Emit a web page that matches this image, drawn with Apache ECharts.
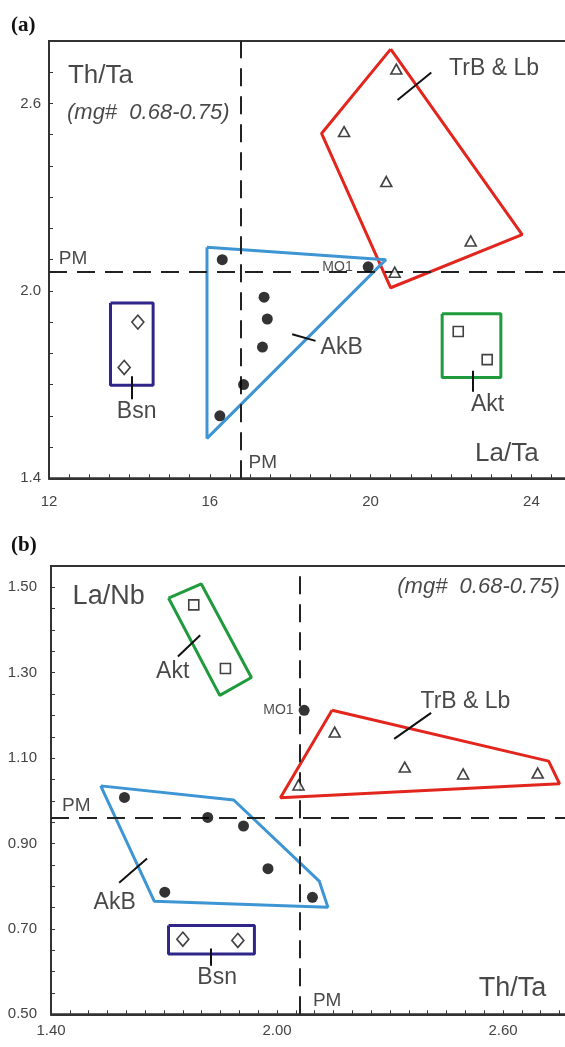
<!DOCTYPE html>
<html><head><meta charset="utf-8">
<script src="https://cdn.jsdelivr.net/npm/echarts/dist/echarts.min.js"></script>
<style>html,body{margin:0;padding:0;background:#fff;overflow:hidden}#c{width:600px;height:1047px}</style>
</head><body><div id="c"></div>
<script>
// ---------- Panel (a): x = La/Ta, y = Th/Ta ----------
const aTicksX = ['12', '16', '20', '24'];
const aTicksY = ['1.4', '2.0', '2.6'];
const aAkB = [[16.31, 2.10], [17.35, 1.98], [17.43, 1.91], [17.31, 1.82], [16.84, 1.70], [16.25, 1.60]];
const aMO1 = [19.94, 2.077];
const aTrB = [[20.64, 2.71], [19.34, 2.51], [20.39, 2.35], [22.49, 2.16], [20.60, 2.06]];
const aBsn = [[14.21, 1.90], [13.87, 1.755]];
const aAkt = [[22.18, 1.87], [22.90, 1.78]];
const aFieldTrB = [[20.5, 2.774], [23.77, 2.18], [20.5, 2.01], [18.78, 2.504]];
const aFieldAkB = [[15.93, 2.14], [20.38, 2.10], [15.93, 1.528]];
const aFieldBsn = [[13.53, 1.961], [14.59, 1.961], [14.59, 1.698], [13.53, 1.698]];
const aFieldAkt = [[21.78, 1.927], [23.24, 1.927], [23.24, 1.723], [21.78, 1.723]];
const aPM = [16.76, 2.06];

// ---------- Panel (b): x = Th/Ta, y = La/Nb ----------
const bTicksX = ['1.40', '2.00', '2.60'];
const bTicksY = ['0.50', '0.70', '0.90', '1.10', '1.30', '1.50'];
const bAkB = [[1.595, 1.008], [1.816, 0.961], [1.911, 0.941], [1.976, 0.841], [1.702, 0.786], [2.094, 0.774]];
const bMO1 = [2.072, 1.212];
const bTrB = [[2.153, 1.161], [2.339, 1.079], [2.494, 1.063], [2.692, 1.065], [2.057, 1.037]];
const bBsn = [[1.750, 0.676], [1.896, 0.673]];
const bAkt = [[1.779, 1.459], [1.863, 1.310]];
const bFieldTrB = [[2.146, 1.212], [2.721, 1.093], [2.750, 1.040], [2.009, 1.007]];
const bFieldAkB = [[1.532, 1.035], [1.885, 1.002], [2.112, 0.812], [2.135, 0.751], [1.674, 0.765]];
const bFieldBsn = [[1.712, 0.708], [1.940, 0.708], [1.940, 0.641], [1.712, 0.641]];
const bFieldAkt = [[1.712, 1.475], [1.799, 1.508], [1.932, 1.289], [1.848, 1.247]];
const bPM = [2.06, 0.96];

// ---------- annotations (data units) ----------
const aTitles = [{t: 'Th/Ta', p: [13.28, 2.69]}, {t: 'La/Ta', p: [23.39, 1.478]}];
const aGroups = [{t: 'TrB & Lb', p: [23.07, 2.71]}, {t: 'AkB', p: [19.28, 1.819]}, {t: 'Bsn', p: [14.18, 1.613]}, {t: 'Akt', p: [22.91, 1.637]}];
const aPMText = [{t: 'PM', p: [12.6, 2.104]}, {t: 'PM', p: [17.32, 1.449]}];
const aMg = [{t: '(mg#  0.68-0.75)', p: [14.47, 2.571]}];
const aLeaders = [[[20.67, 2.611], [21.51, 2.699]], [[18.05, 1.861], [18.63, 1.84]], [[14.07, 1.727], [14.07, 1.653]], [[22.53, 1.744], [22.53, 1.677]]];

const bTitles = [{t: 'La/Nb', p: [1.553, 1.479]}, {t: 'Th/Ta', p: [2.625, 0.561]}];
const bGroups = [{t: 'TrB & Lb', p: [2.50, 1.232]}, {t: 'AkB', p: [1.569, 0.761]}, {t: 'Bsn', p: [1.841, 0.585]}, {t: 'Akt', p: [1.723, 1.302]}];
const bPMText = [{t: 'PM', p: [1.467, 0.988]}, {t: 'PM', p: [2.133, 0.532]}];
const bMg = [{t: '(mg#  0.68-0.75)', p: [2.535, 1.502]}];
const bLeaders = [[[2.311, 1.145], [2.409, 1.206]], [[1.581, 0.808], [1.655, 0.865]], [[1.825, 0.654], [1.825, 0.614]], [[1.737, 1.338], [1.796, 1.388]]];

const FONT = "'Liberation Sans', Arial, sans-serif";
const C = {red: '#e2261d', blue: '#3d95d4', green: '#1f9a3c', purple: '#30268a', ink: '#1a1a1a', axis: '#333'};

function close(poly) { return poly.concat([poly[0]]); }
function field(idx, poly, color) {
  return {type: 'line', xAxisIndex: idx, yAxisIndex: idx, data: close(poly), symbol: 'none',
    lineStyle: {color: color, width: 3}, z: 2, silent: true, animation: false};
}
function pts(idx, data, symbol, size, filled) {
  return {type: 'scatter', xAxisIndex: idx, yAxisIndex: idx, data: data, symbol: symbol, symbolSize: size,
    itemStyle: filled ? {color: '#000'} : {color: '#fff', borderColor: '#111', borderWidth: 1.6}, z: 5, animation: false};
}
function texts(idx, arr, fs, italic) {
  return {type: 'scatter', xAxisIndex: idx, yAxisIndex: idx, symbolSize: 0, z: 6, silent: true, animation: false,
    data: arr.map(o => ({value: o.p, name: o.t})),
    label: {show: true, position: 'inside', formatter: p => p.name, color: C.ink, fontSize: fs,
      fontFamily: FONT, fontStyle: italic ? 'italic' : 'normal'}};
}
function leaders(idx, arr) {
  return {type: 'lines', coordinateSystem: 'cartesian2d', xAxisIndex: idx, yAxisIndex: idx, z: 4, silent: true,
    data: arr.map(c => ({coords: c})), lineStyle: {color: '#111', width: 2, opacity: 1}, animation: false};
}
function pmLines(idx, pm) {
  return {type: 'scatter', xAxisIndex: idx, yAxisIndex: idx, data: [], z: 3, animation: false,
    markLine: {silent: true, symbol: 'none', animation: false, label: {show: false},
      lineStyle: {color: '#222', width: 2, type: [18, 10]},
      data: [{xAxis: pm[0]}, {yAxis: pm[1]}]}};
}
function valAxis(idx, min, max, step, labels, digits, margin) {
  return {type: 'value', gridIndex: idx, min: min, max: max, interval: step,
    axisLine: {show: true, lineStyle: {color: C.axis, width: 2}},
    axisTick: {show: true, inside: true, length: 4, interval: 0, lineStyle: {color: C.axis, width: 1}},
    splitLine: {show: false},
    axisLabel: {show: true, interval: 0, margin: margin, color: '#444', fontSize: 15, fontFamily: FONT,
      formatter: v => { const hit = labels.find(s => Math.abs(Number(s) - v) < 1e-6); return hit || ''; }}};
}

const chart = echarts.init(document.getElementById('c'), null, {renderer: 'canvas'});
chart.setOption({
  backgroundColor: '#fff',
  animation: false,
  title: [
    {text: '(a)', left: 6, top: 10, textStyle: {fontFamily: "'Liberation Serif', serif", fontWeight: 'bold', fontSize: 21, color: '#111'}},
    {text: '(b)', left: 6, top: 530, textStyle: {fontFamily: "'Liberation Serif', serif", fontWeight: 'bold', fontSize: 21, color: '#111'}}
  ],
  grid: [
    {left: 49, top: 41, width: 522.6, height: 437.3, show: true, borderColor: C.axis, borderWidth: 2, backgroundColor: 'transparent'},
    {left: 51, top: 566, width: 527.4, height: 448.3, show: true, borderColor: C.axis, borderWidth: 2, backgroundColor: 'transparent'}
  ],
  xAxis: [
    valAxis(0, 12, 25, 0.5, aTicksX, 0, 16),
    valAxis(1, 1.4, 2.8, 0.05, bTicksX, 2, 9)
  ],
  yAxis: [
    valAxis(0, 1.4, 2.8, 0.1, aTicksY, 1, 8),
    valAxis(1, 0.5, 1.55, 0.05, bTicksY, 2, 14)
  ],
  series: [
    // panel a
    pmLines(0, aPM),
    field(0, aFieldTrB, C.red), field(0, aFieldAkB, C.blue), field(0, aFieldBsn, C.purple), field(0, aFieldAkt, C.green),
    pts(0, aTrB, 'triangle', [11, 10], false),
    pts(0, aBsn, 'diamond', [12, 14], false),
    pts(0, aAkt, 'rect', 10, false),
    pts(0, aAkB, 'circle', 11, true),
    Object.assign(pts(0, [aMO1], 'circle', 11, true), {label: {show: true, position: 'left', distance: 10, formatter: 'MO1', fontSize: 14, color: '#222', fontFamily: FONT}}),
    leaders(0, aLeaders),
    texts(0, aTitles, 26, false), texts(0, aGroups, 23, false), texts(0, aPMText, 19, false), texts(0, aMg, 22, true),
    // panel b
    pmLines(1, bPM),
    field(1, bFieldTrB, C.red), field(1, bFieldAkB, C.blue), field(1, bFieldBsn, C.purple), field(1, bFieldAkt, C.green),
    pts(1, bTrB, 'triangle', [11, 10], false),
    pts(1, bBsn, 'diamond', [12, 14], false),
    pts(1, bAkt, 'rect', 10, false),
    pts(1, bAkB, 'circle', 11, true),
    Object.assign(pts(1, [bMO1], 'circle', 11, true), {label: {show: true, position: 'left', distance: 5, formatter: 'MO1', fontSize: 14, color: '#222', fontFamily: FONT}}),
    leaders(1, bLeaders),
    texts(1, bTitles, 27, false), texts(1, bGroups, 23, false), texts(1, bPMText, 19, false), texts(1, bMg, 22, true)
  ]
});
</script>
</body></html>
